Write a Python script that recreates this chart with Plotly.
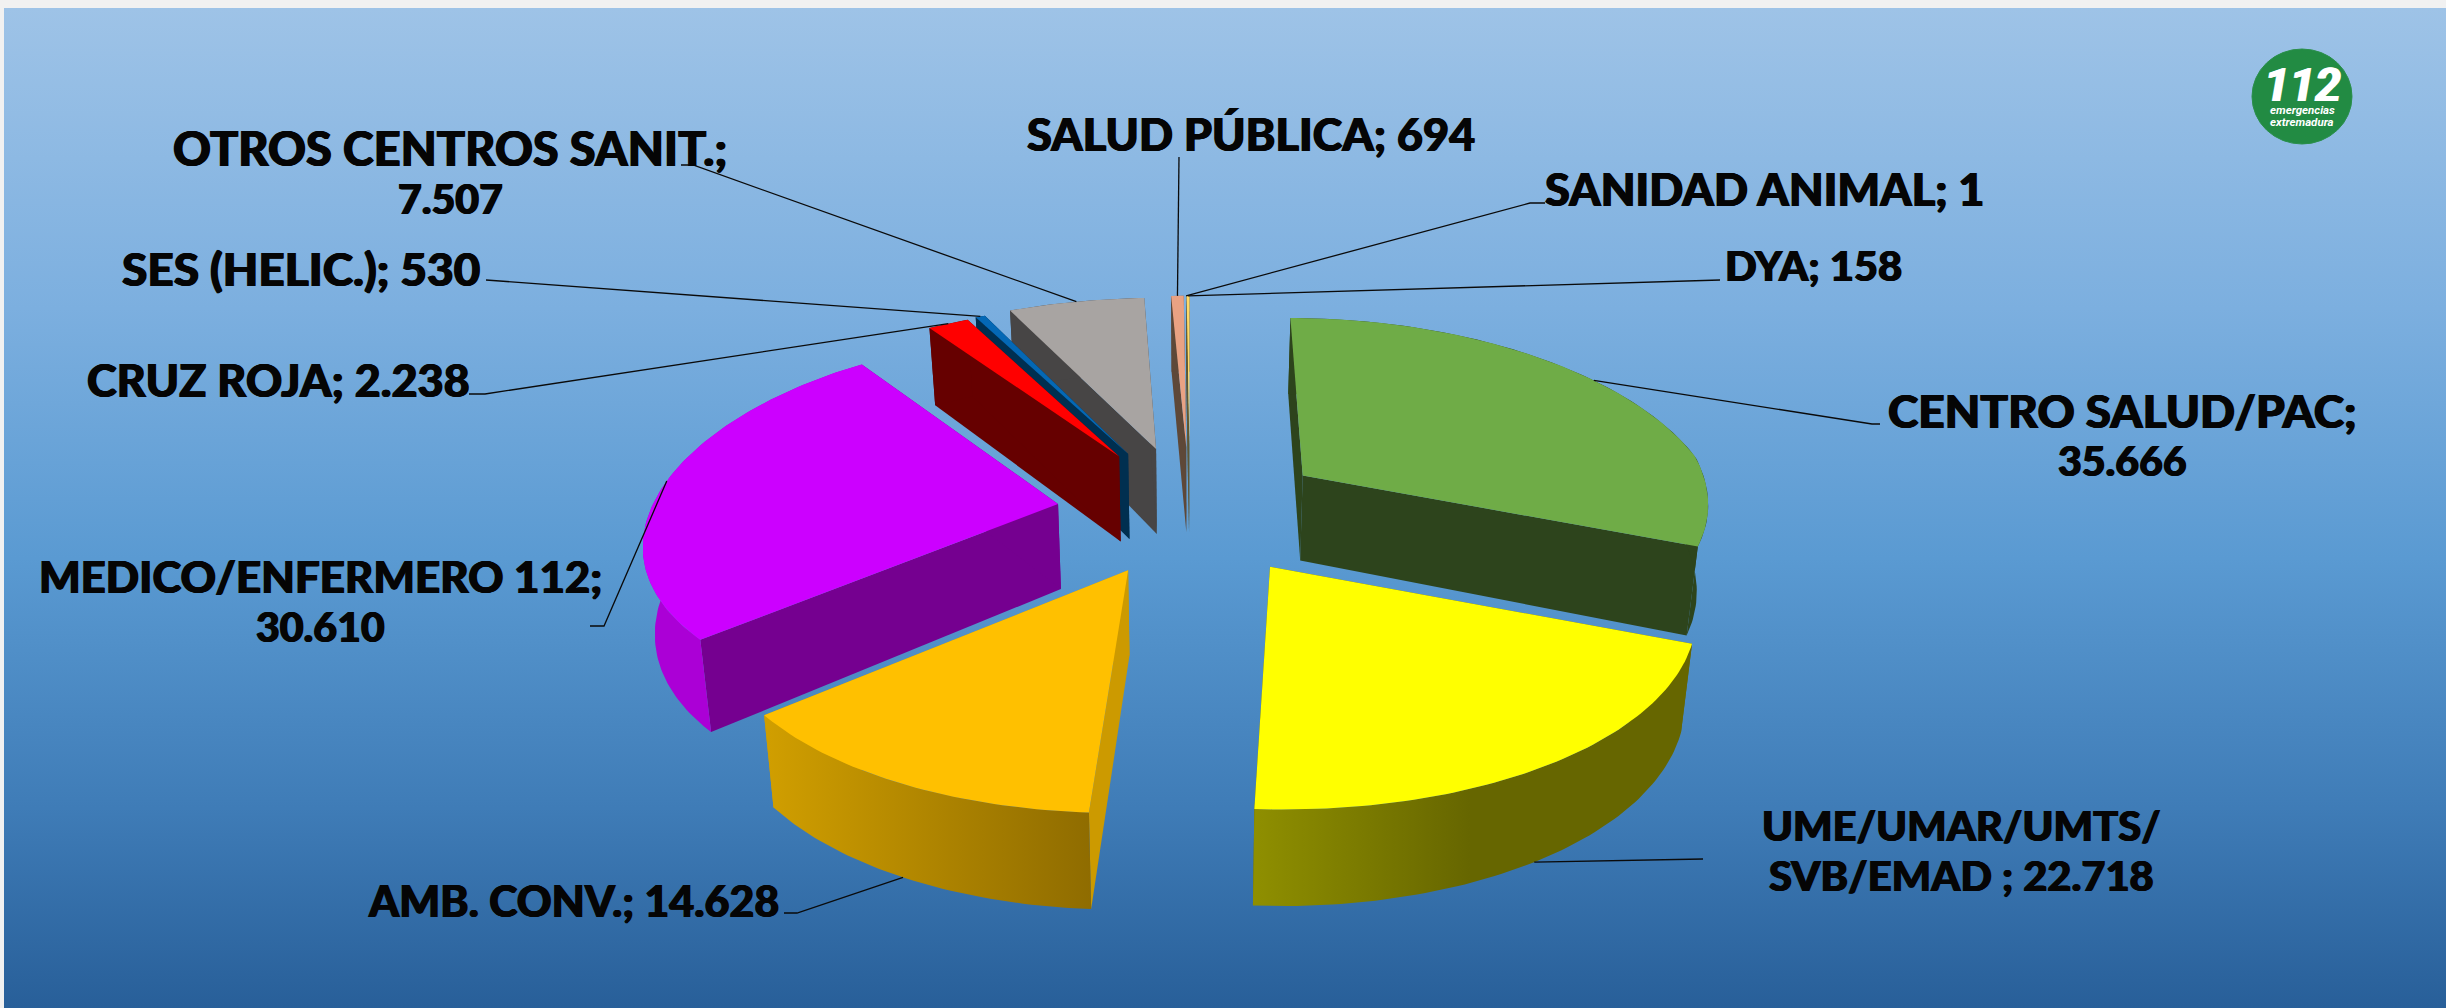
import numpy as np
import plotly.graph_objects as go

# ---------- data (clockwise from 12 o'clock) ----------
NAMES = ["CENTRO SALUD/PAC", "UME/UMAR/UMTS/<br>SVB/EMAD ", "AMB. CONV.", "MEDICO/ENFERMERO 112",
         "CRUZ ROJA", "SES (HELIC.)", "OTROS CENTROS SANIT.", "SALUD PÚBLICA", "SANIDAD ANIMAL", "DYA"]
VALUES = [35666, 22718, 14628, 30610, 2238, 530, 7507, 694, 1, 158]
BREAK_BEFORE_VALUE = [True, False, False, True, False, False, True, False, False, False]

# ---------- style ----------
TOP = ["#6fac47", "#ffff00", "#ffc000", "#cc00ff", "#ff0000", "#0468b5", "#a8a4a2", "#e9a283", "#f4d9a0", "#ffd966"]
WALL = ["#2d441c", "#666600", "#cc9a00", "#750090", "#660000", "#002f50", "#474545", "#5e4838", "#5e5838", "#665520"]
ARC = [None, ("#8f8f00", "#666600"), ("#d19f00", "#8f6c00"), "#ab00d6", None, None, None, None, None, None]
ARC_SPAN = {1: (1254, 1470), 2: (763, 1091)}
SKEW = [0.6, 0.6, 0.6, 0.0, 0.6, 0.6, 0.6, 0.6, 0.6, 0.6]
NUDGE_X = [0, 7, -2, 3, 0, 0, 0, 0, 0, 0]
SCALE_X = [0.95, 1.02, 1.0, 1.0, 1, 1, 1, 1, 1, 1]   # applied on the near part of the slice only
SCALE_Y = [0.93, 1.0, 1.0, 1.0, 1, 1, 1, 1, 1, 1]
KY = [0.20, 0.221, 0.221, 0.135, 0.25, 0.25, 0.25, 0.25, 0.25, 0.25]
DRAW_ORDER = [9, 8, 7, 6, 5, 4, 3, 0, 2, 1]

# ---------- projection parameters (pixels of the slide) ----------
W, H = 2446, 1008
CX, CY = 1190.0, 512.0
EX, EY = 136.0, 65.0
RX, RY, K = 405.0, 189.0, 0.221
DEPTH, DK, SHRINK = 85.0, 0.12, 0.978

total = sum(VALUES)
angles = np.concatenate([[0], np.cumsum(VALUES) / total * 2 * np.pi])
mids = (angles[:-1] + angles[1:]) / 2


def project(i, a, r=1.0, bottom=False):
    ax = EX * np.sin(mids[i]) + NUDGE_X[i]
    ay = -EY * np.cos(mids[i])
    X, Y = r * np.sin(a), r * np.cos(a)
    w = 1 + K * Y
    ramp = np.clip((0.1 - Y) / 0.473, 0, 1)
    sx = ax + (1 + (SCALE_X[i] - 1) * ramp) * X * RX / w + SKEW[i] * ax * (1 / w - 1)
    sy = ay - (1 + (SCALE_Y[i] - 1) * ramp) * Y * RY / (1 + KY[i] * Y)
    if bottom:
        sy = sy + DEPTH / (1 + DK * Y)
        sx = sx * SHRINK
    return CX + sx, CY + sy


fig = go.Figure()


def poly(xs, ys, color=None, grad=None, span=None, name=""):
    xs, ys = list(xs) + [xs[0]], list(ys) + [ys[0]]
    kw = dict(x=xs, y=ys, mode="lines", line=dict(width=0), fill="toself",
              hoverinfo="skip", showlegend=False, name=name)
    if grad:
        kw["fillgradient"] = dict(type=grad[0], start=span[0], stop=span[1], colorscale=grad[1])
    else:
        kw["fillcolor"] = color
    fig.add_trace(go.Scatter(**kw))


# background
poly([4, W, W, 4], [8, 8, H, H], grad=("vertical", [[0, "#9ec3e7"], [0.3, "#7cafdf"], [0.55, "#5a9ad2"],
                                                     [0.8, "#3f7cb7"], [1, "#285f99"]]), span=(8, H), name="fondo")

# slices, back to front
for i in DRAW_ORDER:
    a0, a1 = angles[i], angles[i + 1]
    t = np.linspace(a0, a1, max(3, int((a1 - a0) * 60)))
    # radial walls
    for a in (a0, a1):
        x0, y0 = project(i, a, 0)
        x1, y1 = project(i, a)
        x2, y2 = project(i, a, 1, True)
        x3, y3 = project(i, a, 0, True)
        poly([x0, x1, x2, x3], [y0, y1, y2, y3], WALL[i], name=NAMES[i])
    # outer arc wall
    tx, ty = project(i, t)
    bx, by = project(i, t, 1, True)
    xs = np.concatenate([tx, bx[::-1]])
    ys = np.concatenate([ty, by[::-1]])
    if isinstance(ARC[i], tuple):
        poly(xs, ys, grad=("horizontal", [[0, ARC[i][0]], [1, ARC[i][1]]]), span=ARC_SPAN[i], name=NAMES[i])
    else:
        poly(xs, ys, ARC[i] or WALL[i], name=NAMES[i])
    # top face
    ax0, ay0 = project(i, a0, 0)
    poly(np.concatenate([[ax0], tx]), np.concatenate([[ay0], ty]), TOP[i], name=NAMES[i])

# ---------- labels and leader lines ----------
LABEL_X = [2122, 1961, 573, 320, 278, 301, 450, 1251, 1764, 1813]
LABEL_Y = [410, 825, 900, 576, 380, 268, 148, 134, 189, 265]   # centre of the first line
LABEL_SIZE = [46, 41.6, 43, 43.8, 45, 46, 46.8, 45, 45, 41.7]
VALUE_LINE_SIZE = 41
LINE_GAP = 50
LEADER_TAIL = [[(1872, 424), (1880, 424)], [(1703, 859)], [(797, 913), (784, 913)], [(604, 626), (590, 626)],
               [(485, 394), (469, 394)], [(502, 281), (486, 280)], [(693, 165), (681, 165)],
               [(1179, 157)], [(1530, 203), (1545, 203)], [(1720, 280)]]
LEADER_FROM_BOTTOM = [False, True, True, False, False, False, False, False, False, False]
LEADER_ANGLE_SHIFT = [0, 0.03, 0, 0, 0, 0, 0, 0, 0, 0]
LABEL_SHADOW = "0.7px 0 0 #050505, -0.7px 0 0 #050505"


def es_num(v):
    return f"{v:,}".replace(",", ".")


for i in range(len(VALUES)):
    sx, sy = project(i, mids[i] + LEADER_ANGLE_SHIFT[i], 1, LEADER_FROM_BOTTOM[i])
    lx = [float(sx)] + [p[0] for p in LEADER_TAIL[i]]
    ly = [float(sy)] + [p[1] for p in LEADER_TAIL[i]]
    fig.add_trace(go.Scatter(x=lx, y=ly, mode="lines", line=dict(color="#0a0a0a", width=1.3),
                             hoverinfo="skip", showlegend=False))
    sep = ";<br>" if BREAK_BEFORE_VALUE[i] else "; "
    text = f"{NAMES[i]}{sep}{es_num(VALUES[i])}"
    lines = text.split("<br>")
    for n, line in enumerate(lines):
        size = VALUE_LINE_SIZE if (n == 1 and BREAK_BEFORE_VALUE[i]) else LABEL_SIZE[i]
        fig.add_annotation(x=LABEL_X[i], y=LABEL_Y[i] + n * LINE_GAP, xref="x", yref="y", text=line,
                           showarrow=False, xanchor="center", yanchor="middle", align="center",
                           font=dict(family="Lato", size=size, color="#050505", weight=900, shadow=LABEL_SHADOW))

# ---------- logo ----------
fig.add_shape(type="circle", xref="x", yref="y", x0=2252, x1=2352, y0=49, y1=144,
              fillcolor="#228b43", line=dict(color="#2b8f4c", width=1))
for txt, y, size, shadow in [("112", 85, 46, "1px 0 0 white, -1px 0 0 white"),
                             ("emergencias", 110, 11.5, "none"), ("extremadura", 122, 11.5, "none")]:
    fig.add_annotation(x=2302, y=y, xref="x", yref="y", text=f"<b><i>{txt}</i></b>", showarrow=False,
                       xanchor="center", yanchor="middle",
                       font=dict(family="Roboto", size=size, color="white", shadow=shadow))

fig.update_layout(width=W, height=H, margin=dict(l=0, r=0, t=0, b=0), paper_bgcolor="#f1f1f1",
                  plot_bgcolor="#f1f1f1", showlegend=False,
                  xaxis=dict(range=[0, W], visible=False, fixedrange=True),
                  yaxis=dict(range=[H, 0], visible=False, fixedrange=True))
fig.write_html("out.html", config={"displayModeBar": False},
               post_script="document.body.style.margin='0';document.body.style.overflow='hidden';")
